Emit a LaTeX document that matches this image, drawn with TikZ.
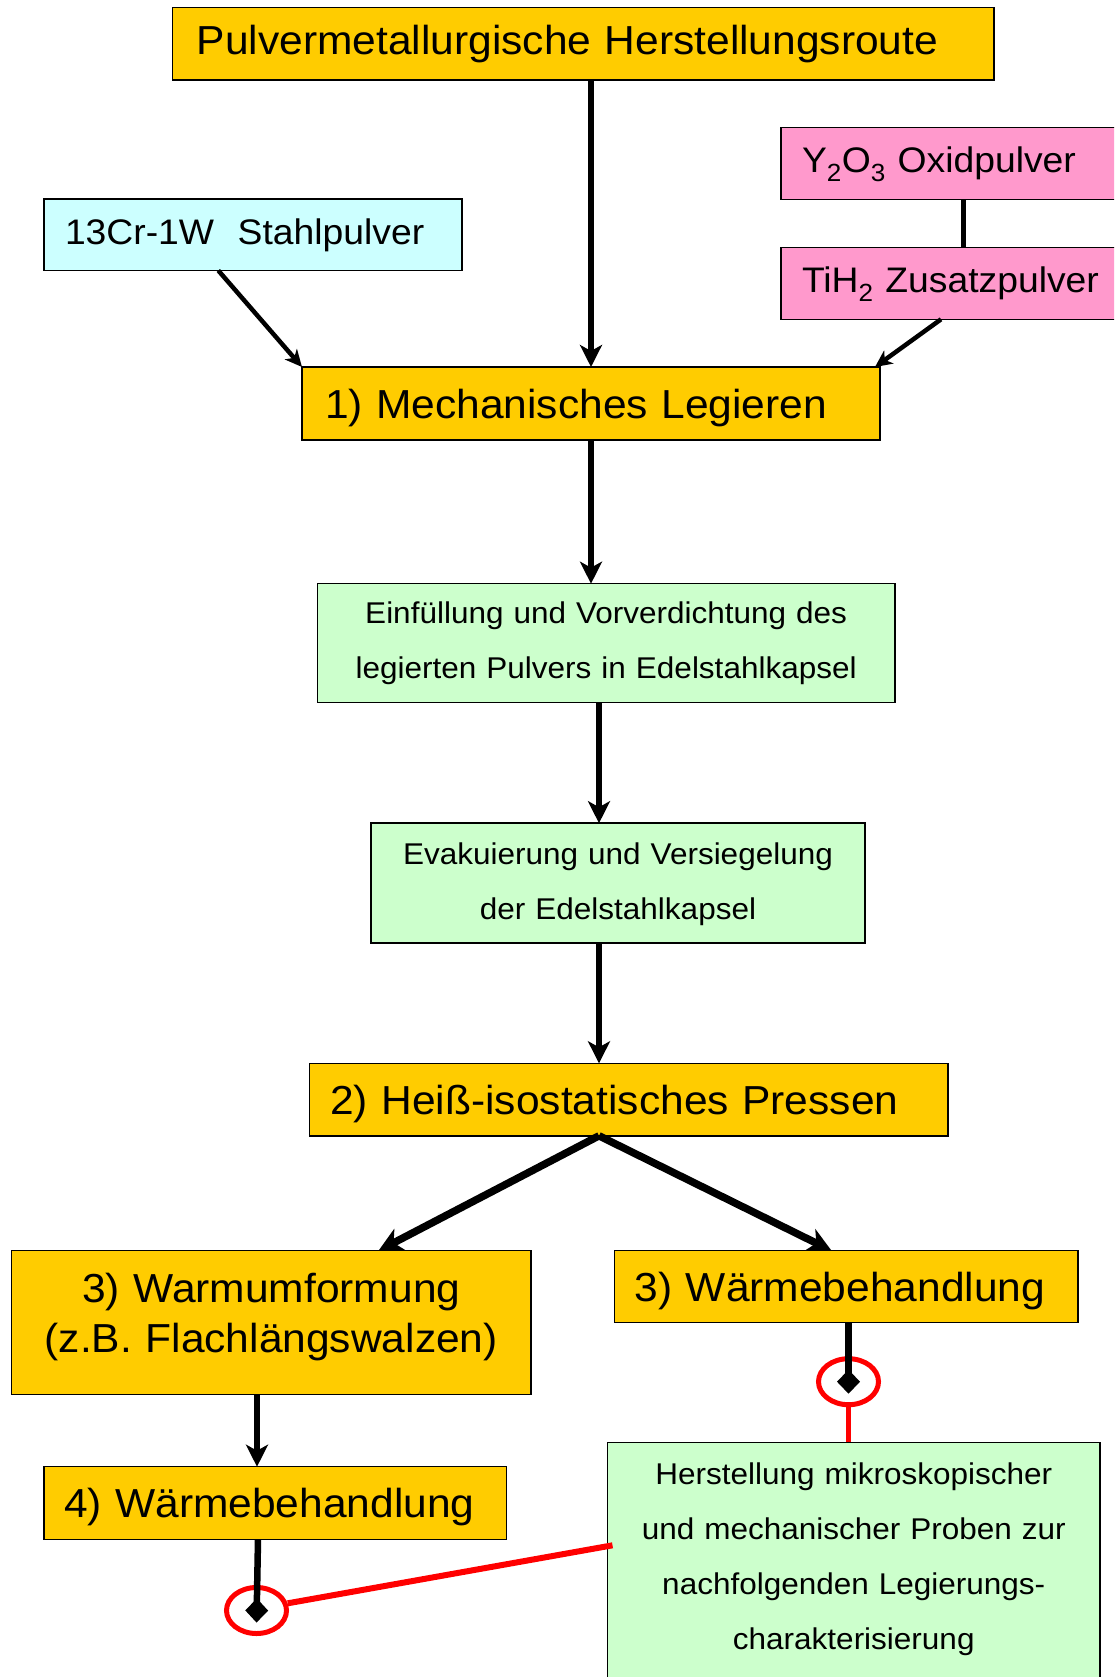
\documentclass[tikz,border=0pt]{standalone}
\usepackage{fontspec}
\setmainfont{Liberation Sans}[FakeStretch=1.05]
\usetikzlibrary{arrows.meta,shapes.geometric,calc}
\definecolor{gold}{HTML}{FFCC00}
\definecolor{cyanbox}{HTML}{CCFFFF}
\definecolor{pinkbox}{HTML}{FF99CC}
\definecolor{greenbox}{HTML}{CCFFCC}
\tikzset{
  box/.style={draw=black, line width=1.5pt, anchor=north west, inner ysep=0pt, outer sep=0pt},
  bigfont/.style={font=\fontsize{40.5}{50}\selectfont},
  medfont/.style={font=\fontsize{35.5}{42}\selectfont},
  smallfont/.style={font=\fontsize{30}{55.5}\selectfont},
  arr/.style={line width=6.5pt, -{Stealth[length=22pt,width=22pt,inset=6pt]}},
  thinarr/.style={line width=4.5pt, -{Stealth[length=17pt,width=16pt,inset=5pt]}},
  brarr/.style={line width=7.5pt, -{Stealth[length=24pt,width=24pt,inset=7pt]}},
  dia/.style={line width=6.5pt, -{Diamond[length=24pt,width=23pt]}},
  ell/.style={ellipse, draw=red, line width=5pt, minimum width=60pt, minimum height=46pt, inner sep=0pt},
  redline/.style={draw=red, line width=5pt},
}
\begin{document}
\begin{tikzpicture}[x=1pt,y=-1pt]
\useasboundingbox (0,0) rectangle (1114,1677);
\clip (0,0) rectangle (1114,1677);
\fill[white] (0,0) rectangle (1114,1677);

% boxes
\node[box, fill=gold, bigfont, minimum width=821.3pt, minimum height=72.7pt, text width=773.3pt, inner xsep=24pt, align=left, text height=29pt, text depth=6.3pt] (top) at (172.7,7.3) {Pulvermetallurgische Herstellungsroute};
\node[box, fill=cyanbox, medfont, minimum width=418pt, minimum height=71.5pt, text width=376pt, inner xsep=21pt, align=left, text height=25.4pt, text depth=6pt] (stahl) at (44,199) {13Cr-1W\ \ Stahlpulver};
\node[box, fill=pinkbox, medfont, minimum width=349pt, minimum height=72pt, text width=307pt, inner xsep=21pt, align=left, text height=25.4pt, text depth=6pt] (y2o3) at (781,127.3) {Y\textsubscript{2}O\textsubscript{3} Oxidpulver};
\node[box, fill=pinkbox, medfont, minimum width=349pt, minimum height=72pt, text width=307pt, inner xsep=21pt, align=left, text height=25.4pt, text depth=6pt] (tih2) at (781,247.3) {TiH\textsubscript{2} Zusatzpulver};
\node[box, fill=gold, bigfont, minimum width=578pt, minimum height=73pt, text width=532pt, inner xsep=23pt, align=left, text height=29pt, text depth=0pt] (ml) at (302,367) {1) Mechanisches Legieren};
\node[box, fill=greenbox, font=\fontsize{30}{55.5}\selectfont, minimum width=577.3pt, minimum height=118.7pt, text width=557.3pt, inner xsep=10pt, align=center, text height=21.5pt, text depth=61.5pt] (einf) at (317.5,583.7) {Einfüllung und Vorverdichtung des\\legierten Pulvers in Edelstahlkapsel};
\node[box, fill=greenbox, font=\fontsize{30}{55}\selectfont, minimum width=494pt, minimum height=119.8pt, text width=474pt, inner xsep=10pt, align=center, text height=21.5pt, text depth=59.1pt] (evak) at (371,823.2) {Evakuierung und Versiegelung\\der Edelstahlkapsel};
\node[box, fill=gold, bigfont, minimum width=638.9pt, minimum height=72.5pt, text width=596.9pt, inner xsep=21pt, align=left, text height=29pt, text depth=0pt] (hip) at (309.3,1063.3) {2) Heiß-isostatisches Pressen};
\node[box, fill=gold, bigfont, minimum width=519.5pt, minimum height=143.8pt, text width=499.5pt, inner xsep=10pt, align=center, text height=29pt, text depth=70pt] (warm) at (11.5,1250.7) {3) Warmumformung\\(z.B. Flachlängswalzen)};
\node[box, fill=gold, bigfont, minimum width=463.2pt, minimum height=72pt, text width=423.2pt, inner xsep=20pt, align=left, text height=29pt, text depth=0pt] (w3) at (614.6,1250.7) {3) Wärmebehandlung};
\node[box, fill=gold, bigfont, minimum width=462.6pt, minimum height=72.6pt, text width=422.6pt, inner xsep=20pt, align=left, text height=29pt, text depth=0pt] (w4) at (44,1466.7) {4) Wärmebehandlung};
\node[box, fill=greenbox, minimum width=492.5pt, minimum height=300pt] (herst) at (607.5,1442.3) {};
\node[anchor=north, inner sep=0pt, font=\fontsize{30}{55}\selectfont, text width=472pt, align=center, text height=21.5pt, text depth=0pt] (hersttext) at ([yshift=-20.5pt]herst.north) {Herstellung mikroskopischer\\und mechanischer Proben zur\\nachfolgenden Legierungs-\\charakterisierung};

% ellipses
\node[ell] (e1) at (848.5,1381.7) {};
\node[ell] (e2) at (256.5,1610.5) {};

% connectors
\coordinate (sp) at (599,0);
\draw[arr] (top.south -| ml.north) -- (ml.north);
\draw[thinarr] ([xshift=174.3pt]stahl.south west) -- (ml.north west);
\draw[thinarr] ([xshift=160pt]tih2.south west) -- ([xshift=-5pt]ml.north east);
\draw[line width=4.5pt] ([xshift=182.3pt]y2o3.south west) -- ([xshift=182.3pt]tih2.north west);
\draw[arr] (ml.south) -- (ml.south |- einf.north);
\draw[arr] (einf.south -| sp) -- (evak.north -| sp);
\draw[arr] (evak.south -| sp) -- (hip.north -| sp);
\draw[brarr] (hip.south -| sp) -- ([xshift=367pt]warm.north west);
\draw[brarr] (hip.south -| sp) -- ([xshift=217pt]w3.north west);
\draw[arr] ([xshift=245.5pt]warm.south west) -- ([xshift=245.5pt]warm.south west |- w4.north);
\draw[dia] ([xshift=233.9pt]w3.south west) -- ([yshift=-12pt]e1.center);
\draw[dia] ([xshift=214pt]w4.south west) -- ([yshift=-12pt]e2.center);
\draw[redline] (e1.south) -- (e1.south |- herst.north);
\draw[redline, line width=6pt] (e2.13) -- ([xshift=5pt,yshift=-103pt]herst.north west);
\end{tikzpicture}
\end{document}
